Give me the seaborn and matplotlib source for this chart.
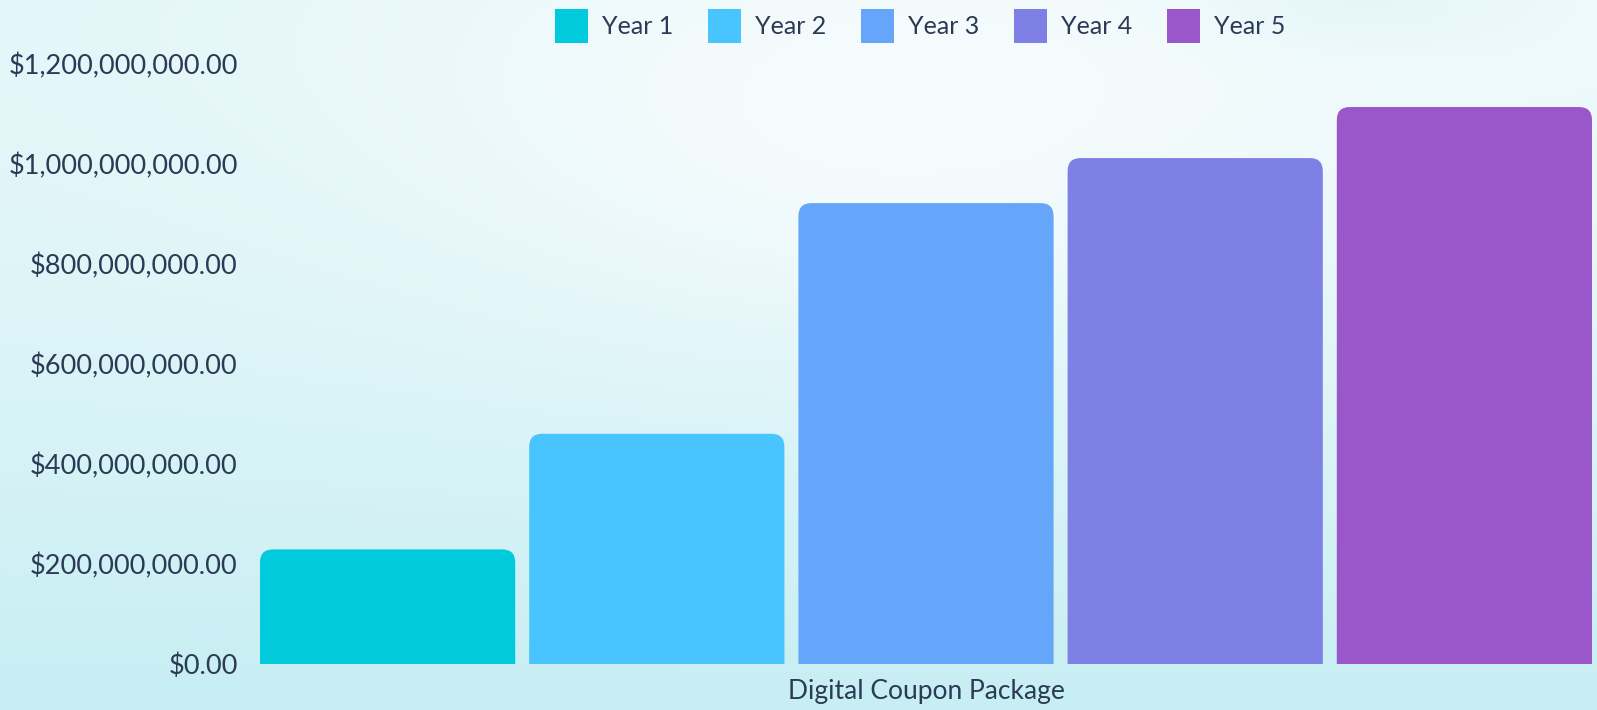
import numpy as np
import pandas as pd
import matplotlib
matplotlib.use('Agg')
import matplotlib.pyplot as plt
import seaborn as sns
from matplotlib.patches import FancyBboxPatch, Patch
from matplotlib.ticker import FuncFormatter

# chart data
categories = ['Digital Coupon Package']
years = ['Year 1', 'Year 2', 'Year 3', 'Year 4', 'Year 5']
values = [229000000, 460000000, 921000000, 1011000000, 1113000000]
y_ticks = [0, 200000000, 400000000, 600000000, 800000000, 1000000000, 1200000000]

colors = ['#00cadc', '#48c4ff', '#66a6fa', '#7f80e6', '#9a57c9']
text_color = '#2b3a55'

df = pd.DataFrame({
    'package': categories * len(years),
    'year': years,
    'value': values,
})

sns.set_style('white')
plt.rcParams['font.family'] = ['Lato', 'DejaVu Sans']

W, H = 1597, 710
fig = plt.figure(figsize=(W / 100, H / 100), dpi=100)

# watercolour-ish background
bg_ax = fig.add_axes([0, 0, 1, 1], zorder=-10)
yy, xx = np.mgrid[0:1:200j, 0:1:400j]
white = np.array([248, 252, 253]) / 255
cyan = np.array([198, 238, 243]) / 255
t = np.clip(0.2 + 0.8 * yy ** 1.5 - 0.3 * np.exp(-((xx - 0.55) ** 2) / 0.08 - ((yy - 0.2) ** 2) / 0.1)
            + 0.2 * (1 - xx) * (1 - yy) + 0.2 * np.exp(-((xx - 0.85) ** 2) / 0.01 - (yy ** 2) / 0.004), 0, 1)
img = white[None, None, :] * (1 - t[..., None]) + cyan[None, None, :] * t[..., None]
bg_ax.imshow(img, aspect='auto', extent=[0, 1, 0, 1], origin='upper')
bg_ax.axis('off')

ax = fig.add_axes([253 / W, (H - 664) / H, 1346 / W, 600.5 / H])
ax.patch.set_alpha(0)

sns.barplot(data=df, x='package', y='value', hue='year', palette=colors,
            width=1, gap=0.052, saturation=1, legend=False, ax=ax)

ax.set_xlim(-0.5, 0.5)
ax.set_ylim(0, 1200000000)

# rounded tops
r_px = 13
r_x = r_px / 1346
r_y = r_px / 600.5 * 1200000000
bars = [p for p in ax.patches]
for p in bars:
    x0, w, h = p.get_x(), p.get_width(), p.get_height()
    fc = p.get_facecolor()
    p.set_visible(False)
    rb = FancyBboxPatch((x0, -3 * r_y), w, h + 3 * r_y,
                        boxstyle=f'round,pad=0,rounding_size={r_x}',
                        mutation_aspect=r_y / r_x, facecolor=fc, edgecolor='none',
                        clip_on=True)
    ax.add_patch(rb)

ax.set_yticks(y_ticks)
ax.yaxis.set_major_formatter(FuncFormatter(lambda v, _: '${:,.2f}'.format(v)))
ax.tick_params(axis='y', length=0, pad=11, labelsize=19.5, labelcolor=text_color)
ax.tick_params(axis='x', length=0, pad=11, labelsize=19, labelcolor=text_color)
ax.set_xlabel('')
ax.set_ylabel('')
ax.grid(False)
sns.despine(ax=ax, left=True, bottom=True)

handles = [Patch(facecolor=c, edgecolor='none') for c in colors]
fig.legend(handles, years, loc='center', bbox_to_anchor=(920 / W, 1 - 26 / H), ncol=5,
           frameon=False, fontsize=18, labelcolor=text_color, handlelength=1.32,
           handleheight=1.7, handletextpad=0.55, columnspacing=1.4)

fig.savefig('out.png', dpi=100)
